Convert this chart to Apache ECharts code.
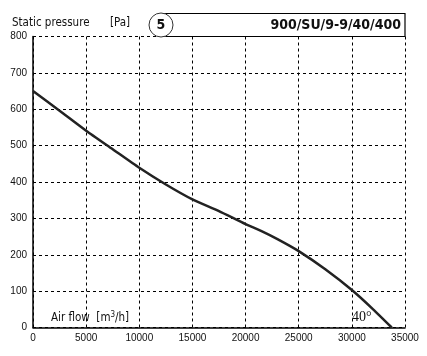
<!DOCTYPE html>
<html><head><meta charset="utf-8">
<script src="https://cdn.jsdelivr.net/npm/echarts@6/dist/echarts.min.js"></script>
<style>html,body{margin:0;padding:0;background:#fff}#c{width:427px;height:356px}</style>
</head><body><div id="c"></div>
<script>
const airflow = [0, 2500, 5000, 7500, 10000, 12500, 15000, 17500, 20000, 21500, 23000, 25000, 27500, 30000, 32000, 33750];
const pressure = [650, 596, 541, 490, 439, 393, 352, 320, 284, 265, 243, 210, 160, 103, 50, 0];
const xTicks = [0, 5000, 10000, 15000, 20000, 25000, 30000, 35000];
const yTicks = [0, 100, 200, 300, 400, 500, 600, 700, 800];
const headerTitle = '900/SU/9-9/40/400';
const curveNo = '5';

const chart = echarts.init(document.getElementById('c'), null, {renderer: 'canvas'});
const gridLeft = 33, gridRight = 22, gridTop = 36.5, gridBottom = 28.5;
chart.setOption({
  animation: false,
  grid: {left: gridLeft, right: gridRight, top: gridTop, bottom: gridBottom, containLabel: false},
  xAxis: {
    type: 'value', min: xTicks[0], max: xTicks[xTicks.length - 1], interval: 5000,
    axisLine: {show: true, onZero: false, lineStyle: {color: '#000', width: 1.5}},
    axisTick: {show: false},
    axisLabel: {color: '#111', fontSize: 10, fontFamily: 'Liberation Sans, Arial', margin: 6,
      formatter: v => String(v)},
    splitLine: {show: true, lineStyle: {color: '#000', type: [3, 3], width: 1}}
  },
  yAxis: {
    type: 'value', min: yTicks[0], max: yTicks[yTicks.length - 1], interval: 100,
    axisLine: {show: true, onZero: false, lineStyle: {color: '#000', width: 1.5}},
    axisTick: {show: false},
    axisLabel: {color: '#111', fontSize: 10, fontFamily: 'Liberation Sans, Arial', margin: 6},
    splitLine: {show: true, lineStyle: {color: '#000', type: [3, 3], width: 1}}
  },
  series: [{
    type: 'line', data: airflow.map((x, i) => [x, pressure[i]]),
    smooth: 0.2, showSymbol: false, symbol: 'none',
    lineStyle: {color: '#222', width: 2.5}, z: 5
  }],
  graphic: [
    {type: 'rect', shape: {x: 161, y: 13.5, width: 244, height: 23}, style: {fill: '#fff', stroke: '#000', lineWidth: 1.2}, z: 10},
    {type: 'circle', shape: {cx: 161, cy: 25, r: 12}, style: {fill: '#fff', stroke: '#333', lineWidth: 1}, z: 11},
    {type: 'text', x: 161, y: 25, style: {text: curveNo, fill: '#111', font: 'bold 14px "DejaVu Sans Condensed", "DejaVu Sans"', align: 'center', verticalAlign: 'middle'}, z: 12},
    {type: 'text', x: 401, y: 25.5, style: {text: headerTitle, fill: '#111', font: 'bold 14px "DejaVu Sans Condensed", "DejaVu Sans"', align: 'right', verticalAlign: 'middle'}, z: 12},
    {type: 'text', x: 12, y: 23, style: {text: 'Static pressure', fill: '#111', font: '11.5px "DejaVu Sans Condensed", "DejaVu Sans"', align: 'left', verticalAlign: 'middle'}, z: 12},
    {type: 'text', x: 110, y: 23, style: {text: '[Pa]', fill: '#111', font: '11.5px "DejaVu Sans Condensed", "DejaVu Sans"', align: 'left', verticalAlign: 'middle'}, z: 12},
    {type: 'text', x: 51, y: 318, style: {
      text: 'Air flow  [m{s|3}/h]', fill: '#111', font: '11.5px "DejaVu Sans Condensed", "DejaVu Sans"',
      rich: {s: {fontSize: 8, verticalAlign: 'top', padding: [0, 0, 6, 0], fontFamily: 'DejaVu Sans Condensed'}},
      align: 'left', verticalAlign: 'middle'}, z: 12},
    {type: 'text', x: 352, y: 317, style: {text: '40°', fill: '#111', font: '14px "Liberation Serif", "DejaVu Serif"', align: 'left', verticalAlign: 'middle'}, z: 12}
  ]
});
</script></body></html>
